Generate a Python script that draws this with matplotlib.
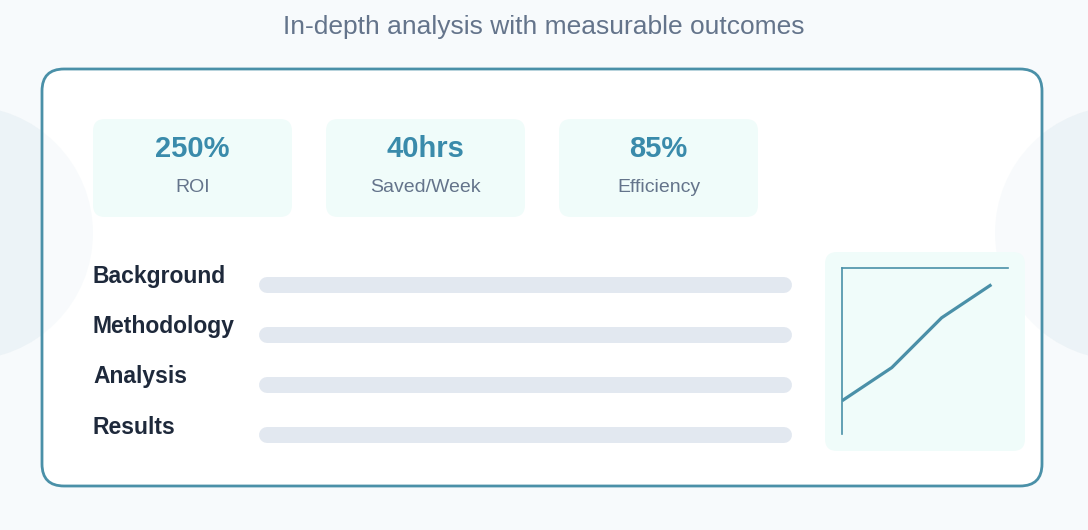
import matplotlib
matplotlib.use("Agg")
import matplotlib.pyplot as plt
from matplotlib.patches import FancyBboxPatch, Circle

plt.rcParams['font.family'] = ['Liberation Sans', 'DejaVu Sans']

# data
title = "In-depth analysis with measurable outcomes"
stat_values = ["250%", "40hrs", "85%"]
stat_labels = ["ROI", "Saved/Week", "Efficiency"]
sections = ["Background", "Methodology", "Analysis", "Results"]
section_fill = [100, 100, 100, 100]   # placeholder bars, all full
trend_x = [0, 30, 60, 90]
trend_y = [20, 40, 70, 90]

# colours
BG = "#f7fafc"
TEAL = "#4a90a8"
VALUE = "#3a8bab"
MINT = "#f0fcfa"
SLATE = "#64748b"
DARK = "#1e293b"
BAR = "#e2e8f0"
CIRCLE = "#ecf3f7"

W, H = 1088, 530
fig = plt.figure(figsize=(W / 100, H / 100), dpi=100, facecolor=BG)
ax = fig.add_axes([0, 0, 1, 1])
ax.set_xlim(0, W)
ax.set_ylim(H, 0)
ax.axis('off')

ax.text(W / 2, 27, title, ha='center', va='center', fontsize=19, color=SLATE)

# decorative circles on the sides (behind the card, faint over it)
for cx in (-34, W + 34):
    ax.add_patch(Circle((cx, 233), 127, facecolor=CIRCLE, edgecolor='none', zorder=0.5))
    ax.add_patch(Circle((cx, 233), 127, facecolor=CIRCLE, edgecolor='none',
                        alpha=0.35, zorder=1.5))

# main card
ax.add_patch(FancyBboxPatch((42, 69), 1000, 417, boxstyle="round,pad=0,rounding_size=22",
                            facecolor='white', edgecolor='none', zorder=1))
ax.add_patch(FancyBboxPatch((42, 69), 1000, 417, boxstyle="round,pad=0,rounding_size=22",
                            facecolor='none', edgecolor=TEAL, linewidth=2.0, zorder=5))

# stat cards
for i, (val, lab) in enumerate(zip(stat_values, stat_labels)):
    x0 = 93 + i * 233
    ax.add_patch(FancyBboxPatch((x0, 119), 199, 98, boxstyle="round,pad=0,rounding_size=12",
                                facecolor=MINT, edgecolor='none', zorder=2))
    cx = x0 + 99.5
    ax.text(cx, 149, val, ha='center', va='center', fontsize=21, fontweight='bold',
            color=VALUE, zorder=3)
    ax.text(cx, 187, lab, ha='center', va='center', fontsize=14, color=SLATE, zorder=3)

# section rows with placeholder bars
bar_x0, bar_x1 = 267, 784
for i, (name, pct) in enumerate(zip(sections, section_fill)):
    y = 277 + i * 50
    ax.text(93, y, name, ha='left', va='center', fontsize=16.5, fontweight='bold',
            color=DARK, zorder=3)
    by = y + 8
    ax.plot([bar_x0, bar_x0 + (bar_x1 - bar_x0) * pct / 100], [by, by], color=BAR,
            linewidth=11.5, solid_capstyle='round', zorder=2)

# mini chart card
ax.add_patch(FancyBboxPatch((825, 252), 200, 199, boxstyle="round,pad=0,rounding_size=12",
                            facecolor=MINT, edgecolor='none', zorder=2))

# mini trend chart
cax = fig.add_axes([842 / W, (H - 434) / H, 166 / W, 166 / H])
cax.set_facecolor('none')
cax.set_xlim(0, 100)
cax.set_ylim(0, 100)
cax.plot(trend_x, trend_y, color=TEAL, linewidth=2.3, solid_capstyle='butt')
for side in ('right', 'bottom'):
    cax.spines[side].set_visible(False)
for side in ('left', 'top'):
    cax.spines[side].set_color(TEAL)
    cax.spines[side].set_linewidth(1.2)
cax.set_xticks([])
cax.set_yticks([])

fig.savefig("out.png", dpi=100, facecolor=BG)
